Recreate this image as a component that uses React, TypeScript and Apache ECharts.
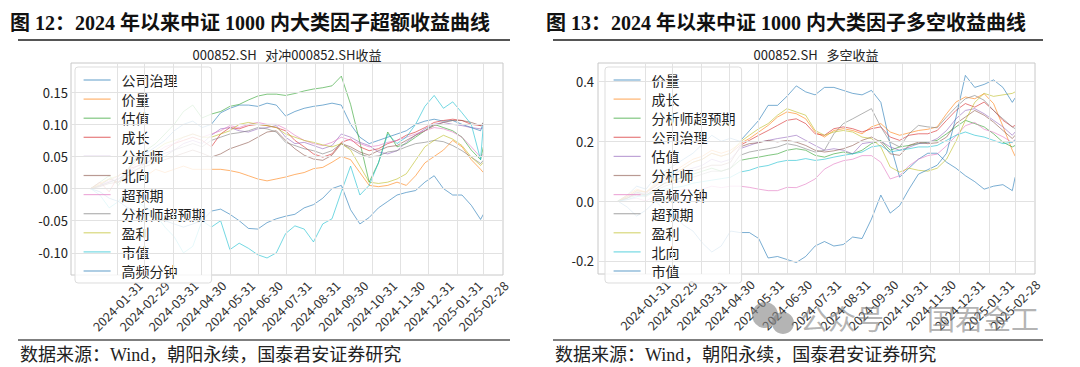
import React, { useEffect, useRef } from 'react';
import * as echarts from 'echarts';

// day offsets from 2024-01-01 for sampled points
const SAMPLE_DAYS = [1, 11, 21, 31, 41, 51, 61, 71, 81, 91, 101, 111, 121, 131, 141, 151, 161, 171, 181, 191, 201, 211, 221, 231, 241, 251, 261, 271, 281, 291, 301, 311, 321, 331, 341, 351, 361, 371, 381, 391, 401, 411, 421, 424];
const MONTH_TICKS = [30, 59, 90, 120, 151, 181, 212, 243, 273, 304, 334, 365, 396, 424];
const TICK_LABELS = ['2024-01-31', '2024-02-29', '2024-03-31', '2024-04-30', '2024-05-31', '2024-06-30', '2024-07-31', '2024-08-31', '2024-09-30', '2024-10-31', '2024-11-30', '2024-12-31', '2025-01-31', '2025-02-28'];
const LEFT_Y_TICKS = [-0.1, -0.05, 0, 0.05, 0.1, 0.15];
const RIGHT_Y_TICKS = [-0.2, 0, 0.2, 0.4];

const LEFT_NAMES = ['公司治理', '价量', '估值', '成长', '分析师', '北向', '超预期', '分析师超预期', '盈利', '市值', '高频分钟'];
const RIGHT_NAMES = ['价量', '成长', '分析师超预期', '公司治理', '估值', '分析师', '高频分钟', '超预期', '盈利', '北向', '市值'];

// Left chart: excess return vs 000852.SH
const lGov = [0, 0.005, 0.015, 0.01, 0.03, 0.045, 0.055, 0.065, 0.075, 0.09, 0.1, 0.105, 0.095, 0.1, 0.118, 0.125, 0.13, 0.13, 0.128, 0.133, 0.13, 0.113, 0.12, 0.125, 0.128, 0.13, 0.133, 0.13, 0.1, 0.08, 0.07, 0.075, 0.08, 0.085, 0.09, 0.1, 0.105, 0.108, 0.105, 0.106, 0.1, 0.095, 0.09, 0.103];
const lPV = [0, 0.008, 0.015, 0.01, 0.02, 0.025, 0.02, 0.03, 0.025, 0.03, 0.035, 0.03, 0.03, 0.03, 0.03, 0.028, 0.025, 0.02, 0.015, 0.012, 0.015, 0.018, 0.022, 0.025, 0.031, 0.033, 0.041, 0.05, 0.045, 0.025, 0.005, 0.003, 0.005, 0.01, 0.005, 0.02, 0.04, 0.05, 0.06, 0.075, 0.065, 0.045, 0.03, 0.025];
const lVal = [0, 0.01, 0.02, 0.005, 0.03, 0.05, 0.06, 0.07, 0.085, 0.1, 0.12, 0.13, 0.11, 0.116, 0.12, 0.128, 0.131, 0.138, 0.144, 0.147, 0.147, 0.145, 0.148, 0.152, 0.155, 0.157, 0.16, 0.175, 0.131, 0.072, 0.01, 0.04, 0.088, 0.065, 0.07, 0.08, 0.09, 0.1, 0.095, 0.09, 0.08, 0.06, 0.045, 0.065];
const lGrowth = [0, 0.01, -0.005, 0.02, 0.03, 0.035, 0.04, 0.05, 0.06, 0.07, 0.075, 0.08, 0.075, 0.065, 0.085, 0.095, 0.093, 0.098, 0.1, 0.098, 0.095, 0.09, 0.075, 0.065, 0.054, 0.049, 0.054, 0.072, 0.077, 0.065, 0.059, 0.062, 0.07, 0.075, 0.083, 0.088, 0.095, 0.103, 0.106, 0.108, 0.106, 0.1, 0.098, 0.1];
const lAnalyst = [0, 0.005, 0.01, 0.015, 0.025, 0.035, 0.04, 0.05, 0.055, 0.06, 0.07, 0.075, 0.07, 0.083, 0.093, 0.095, 0.09, 0.088, 0.093, 0.095, 0.098, 0.08, 0.07, 0.072, 0.067, 0.062, 0.067, 0.085, 0.08, 0.072, 0.067, 0.057, 0.054, 0.059, 0.072, 0.083, 0.093, 0.1, 0.103, 0.1, 0.098, 0.095, 0.093, 0.095];
const lNorth = [0, 0.003, 0.008, 0.01, 0.02, 0.03, 0.035, 0.04, 0.045, 0.05, 0.055, 0.06, 0.055, 0.049, 0.054, 0.062, 0.067, 0.072, 0.08, 0.088, 0.09, 0.075, 0.062, 0.052, 0.046, 0.044, 0.052, 0.07, 0.065, 0.057, 0.052, 0.059, 0.065, 0.067, 0.075, 0.083, 0.09, 0.098, 0.103, 0.106, 0.106, 0.103, 0.098, 0.103];
const lSurprise = [0, 0.005, 0.012, 0.02, 0.03, 0.04, 0.05, 0.055, 0.065, 0.07, 0.08, 0.085, 0.08, 0.085, 0.09, 0.098, 0.095, 0.1, 0.103, 0.1, 0.1, 0.093, 0.083, 0.075, 0.07, 0.067, 0.072, 0.08, 0.075, 0.07, 0.065, 0.067, 0.072, 0.075, 0.08, 0.085, 0.09, 0.095, 0.093, 0.088, 0.08, 0.065, 0.049, 0.054];
const lAnaSurprise = [0, 0.004, 0.01, 0.015, 0.025, 0.03, 0.04, 0.045, 0.05, 0.06, 0.065, 0.07, 0.065, 0.075, 0.08, 0.085, 0.087, 0.09, 0.095, 0.093, 0.088, 0.072, 0.067, 0.062, 0.059, 0.054, 0.059, 0.07, 0.062, 0.054, 0.049, 0.051, 0.057, 0.059, 0.065, 0.07, 0.072, 0.075, 0.073, 0.067, 0.059, 0.049, 0.039, 0.044];
const lProfit = [0, 0.006, 0.015, 0.02, 0.03, 0.045, 0.05, 0.06, 0.07, 0.075, 0.08, 0.085, 0.08, 0.08, 0.085, 0.09, 0.1, 0.103, 0.1, 0.098, 0.095, 0.085, 0.08, 0.075, 0.072, 0.068, 0.065, 0.07, 0.06, 0.035, 0.01, 0.008, 0.01, 0.015, 0.023, 0.044, 0.065, 0.075, 0.083, 0.077, 0.067, 0.049, 0.036, 0.041];
const lSize = [0, -0.01, -0.03, -0.02, 0.0, -0.02, -0.03, -0.04, -0.06, -0.075, -0.1, -0.09, -0.05, -0.06, -0.05, -0.095, -0.085, -0.093, -0.103, -0.108, -0.1, -0.07, -0.058, -0.063, -0.083, -0.055, -0.047, -0.005, 0.035, -0.01, 0.005, 0.04, 0.085, 0.07, 0.08, 0.1, 0.128, 0.145, 0.125, 0.135, 0.118, 0.1, 0.045, 0.1];
const lHF = [0, -0.005, -0.015, -0.02, -0.03, -0.035, -0.04, -0.045, -0.05, -0.055, -0.06, -0.055, -0.05, -0.035, -0.032, -0.04, -0.05, -0.062, -0.063, -0.053, -0.047, -0.043, -0.04, -0.03, -0.025, -0.015, 0.0, 0.005, -0.033, -0.055, -0.045, -0.03, -0.02, -0.01, -0.006, -0.003, 0.01, 0.02, 0.0, -0.01, -0.01, -0.026, -0.048, -0.04];

// Right chart: long-short return
const rPV = [0, 0.02, 0.05, 0.04, 0.08, 0.1, 0.12, 0.14, 0.16, 0.19, 0.22, 0.2, 0.21, 0.2, 0.235, 0.27, 0.32, 0.32, 0.35, 0.385, 0.365, 0.355, 0.38, 0.38, 0.37, 0.36, 0.355, 0.37, 0.33, 0.19, 0.08, 0.11, 0.14, 0.16, 0.16, 0.13, 0.11, 0.085, 0.065, 0.04, 0.05, 0.055, 0.035, 0.08];
const rGrowth = [0, 0.02, 0.04, 0.03, 0.06, 0.09, 0.1, 0.12, 0.14, 0.15, 0.17, 0.16, 0.17, 0.192, 0.209, 0.231, 0.253, 0.281, 0.298, 0.292, 0.275, 0.231, 0.214, 0.236, 0.242, 0.236, 0.225, 0.248, 0.259, 0.231, 0.22, 0.228, 0.236, 0.24, 0.248, 0.292, 0.331, 0.348, 0.342, 0.359, 0.326, 0.25, 0.17, 0.15];
const rAnaSurprise = [0, 0.01, 0.03, 0.02, 0.04, 0.06, 0.07, 0.08, 0.09, 0.1, 0.11, 0.1, 0.11, 0.136, 0.142, 0.147, 0.153, 0.158, 0.17, 0.175, 0.17, 0.153, 0.147, 0.158, 0.164, 0.158, 0.17, 0.192, 0.203, 0.17, 0.181, 0.186, 0.192, 0.197, 0.203, 0.225, 0.248, 0.27, 0.259, 0.248, 0.225, 0.197, 0.181, 0.186];
const rGov = [0, 0.015, 0.035, 0.03, 0.05, 0.08, 0.09, 0.11, 0.13, 0.14, 0.16, 0.15, 0.16, 0.186, 0.203, 0.22, 0.236, 0.253, 0.27, 0.275, 0.259, 0.225, 0.22, 0.242, 0.248, 0.242, 0.231, 0.242, 0.248, 0.214, 0.203, 0.22, 0.225, 0.225, 0.236, 0.27, 0.303, 0.326, 0.314, 0.331, 0.303, 0.27, 0.248, 0.253];
const rVal = [0, 0.01, 0.03, 0.025, 0.05, 0.07, 0.08, 0.1, 0.11, 0.12, 0.14, 0.13, 0.14, 0.175, 0.186, 0.197, 0.203, 0.209, 0.214, 0.22, 0.203, 0.186, 0.17, 0.175, 0.17, 0.158, 0.192, 0.197, 0.2, 0.181, 0.17, 0.18, 0.192, 0.195, 0.209, 0.236, 0.275, 0.303, 0.309, 0.292, 0.27, 0.248, 0.22, 0.231];
const rAnalyst = [0, 0.01, 0.025, 0.02, 0.04, 0.06, 0.07, 0.08, 0.1, 0.11, 0.12, 0.12, 0.13, 0.181, 0.192, 0.195, 0.203, 0.198, 0.203, 0.197, 0.186, 0.17, 0.164, 0.168, 0.175, 0.186, 0.203, 0.214, 0.197, 0.158, 0.153, 0.186, 0.197, 0.192, 0.195, 0.214, 0.259, 0.281, 0.303, 0.287, 0.264, 0.236, 0.209, 0.22];
const rHF = [0, 0.005, 0.01, 0.0, 0.02, 0.025, 0.03, 0.04, 0.035, 0.04, 0.05, 0.045, 0.05, 0.05, 0.046, 0.04, 0.035, 0.035, 0.046, 0.045, 0.057, 0.074, 0.107, 0.124, 0.135, 0.14, 0.152, 0.152, 0.13, 0.074, 0.085, 0.118, 0.14, 0.152, 0.157, 0.185, 0.218, 0.252, 0.263, 0.24, 0.23, 0.215, 0.196, 0.207];
const rSurprise = [0, 0.01, 0.02, 0.015, 0.035, 0.05, 0.06, 0.07, 0.08, 0.09, 0.1, 0.1, 0.11, 0.153, 0.164, 0.17, 0.175, 0.181, 0.192, 0.186, 0.175, 0.164, 0.17, 0.225, 0.259, 0.275, 0.292, 0.309, 0.248, 0.197, 0.181, 0.225, 0.253, 0.248, 0.245, 0.281, 0.314, 0.342, 0.353, 0.337, 0.303, 0.275, 0.248, 0.242];
const rProfit = [0, 0.015, 0.035, 0.03, 0.055, 0.08, 0.09, 0.11, 0.13, 0.14, 0.16, 0.15, 0.16, 0.197, 0.22, 0.242, 0.259, 0.287, 0.309, 0.298, 0.287, 0.236, 0.22, 0.231, 0.236, 0.231, 0.214, 0.209, 0.181, 0.114, 0.097, 0.11, 0.103, 0.1, 0.11, 0.14, 0.2, 0.27, 0.33, 0.36, 0.35, 0.355, 0.36, 0.365];
const rNorth = [0, 0.005, 0.015, 0.02, 0.03, 0.04, 0.045, 0.05, 0.06, 0.065, 0.07, 0.075, 0.08, 0.097, 0.103, 0.114, 0.119, 0.13, 0.136, 0.136, 0.142, 0.136, 0.14, 0.147, 0.153, 0.158, 0.164, 0.181, 0.186, 0.164, 0.17, 0.175, 0.181, 0.181, 0.186, 0.203, 0.22, 0.231, 0.22, 0.214, 0.203, 0.192, 0.197, 0.203];
const rSize = [0, -0.02, -0.05, -0.03, 0.0, -0.03, -0.05, -0.08, -0.1, -0.14, -0.17, -0.15, -0.1, -0.105, -0.105, -0.125, -0.19, -0.185, -0.195, -0.205, -0.185, -0.15, -0.135, -0.15, -0.145, -0.12, -0.125, -0.06, 0.02, -0.04, -0.015, 0.04, 0.09, 0.105, 0.12, 0.16, 0.28, 0.42, 0.38, 0.39, 0.405, 0.38, 0.33, 0.345];

const LEFT_VALUES = [lGov, lPV, lVal, lGrowth, lAnalyst, lNorth, lSurprise, lAnaSurprise, lProfit, lSize, lHF];
const RIGHT_VALUES = [rPV, rGrowth, rAnaSurprise, rGov, rVal, rAnalyst, rHF, rSurprise, rProfit, rNorth, rSize];

const COLORS = ['#1f77b4', '#ff7f0e', '#2ca02c', '#d62728', '#9467bd', '#8c564b', '#e377c2', '#7f7f7f', '#bcbd22', '#17becf', '#1f77b4'];

const X_MIN = -20.15;
const X_MAX = 445.15;
const CJK = '"Noto Sans CJK SC", sans-serif';
const SERIF = '"Liberation Serif", "Noto Sans CJK SC", serif';

function tickLabel(v: number): string {
  const i = MONTH_TICKS.indexOf(Math.round(v));
  return i >= 0 ? TICK_LABELS[i] : '';
}

function makeXAxis(gridIndex: number) {
  return {
    gridIndex,
    type: 'value',
    min: X_MIN,
    max: X_MAX,
    axisLine: { show: false },
    axisTick: { show: false },
    splitLine: { show: false },
    axisLabel: {
      customValues: MONTH_TICKS,
      formatter: (v: number) => tickLabel(v),
      rotate: 45,
      align: 'center',
      verticalAlign: 'middle',
      margin: 31,
      fontSize: 12.5,
      color: '#333',
      fontFamily: CJK,
    },
  };
}

function makeGridSeries(idx: number, yTicks: number[]) {
  return {
    type: 'line',
    name: '__grid' + idx,
    xAxisIndex: idx,
    yAxisIndex: idx,
    data: [[0, 0]],
    symbol: 'none',
    lineStyle: { opacity: 0 },
    silent: true,
    z: 1,
    markLine: {
      silent: true,
      symbol: ['none', 'none'],
      label: { show: false },
      lineStyle: { color: '#e2e2e2', type: 'solid', width: 1 },
      emphasis: { disabled: true },
      data: [...MONTH_TICKS.map((v) => ({ xAxis: v })), ...yTicks.map((v) => ({ yAxis: v }))],
    },
  };
}

function makeSeries(names: string[], values: number[][], idx: number, suffix: string) {
  return names.map((n, i) => ({
    type: 'line',
    name: n + suffix,
    xAxisIndex: idx,
    yAxisIndex: idx,
    data: SAMPLE_DAYS.map((d, j) => [d, values[i][j]]),
    symbol: 'none',
    showSymbol: false,
    color: COLORS[i],
    lineStyle: { width: 1, opacity: 0.6, color: COLORS[i] },
    itemStyle: { color: COLORS[i] },
    emphasis: { disabled: true },
    z: 2,
  }));
}

function makeLegend(names: string[], suffix: string, left: number) {
  return {
    orient: 'vertical',
    left,
    top: 67,
    padding: [6, 6, 5, 8],
    itemWidth: 27,
    itemHeight: 14,
    itemGap: 5.1,
    backgroundColor: 'rgba(255,255,255,0.82)',
    borderColor: '#dddddd',
    borderWidth: 1,
    borderRadius: 3,
    selectedMode: false,
    itemStyle: { opacity: 0, borderWidth: 0 },
    lineStyle: { width: 1.2, opacity: 0.6 },
    formatter: (name: string) => name.trim(),
    textStyle: { fontSize: 14, color: '#222', fontFamily: CJK, padding: [0, 0, 0, 6] },
    data: names.map((n) => n + suffix),
    z: 4,
  };
}

export default function App() {
  const ref = useRef<HTMLDivElement>(null);
  useEffect(() => {
    if (!ref.current) return;
    const chart = echarts.init(ref.current, undefined, { renderer: 'svg' });
    const option: any = {
      animation: false,
      backgroundColor: '#ffffff',
      grid: [
        { left: 71, top: 63, width: 432, height: 212, show: true, borderColor: '#c8c8c8', borderWidth: 1, backgroundColor: '#fff' },
        { left: 598, top: 63, width: 437, height: 211, show: true, borderColor: '#c8c8c8', borderWidth: 1, backgroundColor: '#fff' },
      ],
      xAxis: [makeXAxis(0), makeXAxis(1)],
      yAxis: [
        {
          gridIndex: 0, type: 'value', min: -0.1345, max: 0.1955,
          axisLine: { show: false }, axisTick: { show: false }, splitLine: { show: false },
          axisLabel: { customValues: LEFT_Y_TICKS, formatter: (v: number) => v.toFixed(2), fontSize: 13, color: '#222', margin: 3, fontFamily: CJK },
        },
        {
          gridIndex: 1, type: 'value', min: -0.2435, max: 0.4615,
          axisLine: { show: false }, axisTick: { show: false }, splitLine: { show: false },
          axisLabel: { customValues: RIGHT_Y_TICKS, formatter: (v: number) => v.toFixed(1), fontSize: 13, color: '#222', margin: 4, fontFamily: CJK },
        },
      ],
      legend: [makeLegend(LEFT_NAMES, '', 75), makeLegend(RIGHT_NAMES, ' ', 605)],
      series: [
        makeGridSeries(0, LEFT_Y_TICKS),
        makeGridSeries(1, RIGHT_Y_TICKS),
        ...makeSeries(LEFT_NAMES, LEFT_VALUES, 0, ''),
        ...makeSeries(RIGHT_NAMES, RIGHT_VALUES, 1, ' '),
      ],
      graphic: [
        { type: 'text', x: 10, y: 23, style: { text: '图 12：2024 年以来中证 1000 内大类因子超额收益曲线', font: 'bold 20px ' + SERIF, fill: '#111', verticalAlign: 'middle' } },
        { type: 'text', x: 546, y: 23, style: { text: '图 13：2024 年以来中证 1000 内大类因子多空收益曲线', font: 'bold 20px ' + SERIF, fill: '#111', verticalAlign: 'middle' } },
        { type: 'line', shape: { x1: 18, y1: 40, x2: 510, y2: 40 }, style: { stroke: '#555', lineWidth: 2 } },
        { type: 'line', shape: { x1: 553, y1: 40, x2: 1043, y2: 40 }, style: { stroke: '#555', lineWidth: 2 } },
        { type: 'text', x: 287, y: 54, style: { text: '000852.SH   对冲000852.SH收益', font: '13px ' + CJK, fill: '#222', align: 'center', verticalAlign: 'middle' } },
        { type: 'text', x: 816, y: 54, style: { text: '000852.SH   多空收益', font: '13px ' + CJK, fill: '#222', align: 'center', verticalAlign: 'middle' } },
        { type: 'line', shape: { x1: 18, y1: 340, x2: 510, y2: 340 }, style: { stroke: '#555', lineWidth: 1.5 } },
        { type: 'line', shape: { x1: 553, y1: 340, x2: 1043, y2: 340 }, style: { stroke: '#555', lineWidth: 1.5 } },
        { type: 'text', x: 20, y: 355, style: { text: '数据来源：Wind，朝阳永续，国泰君安证券研究', font: '18px ' + SERIF, fill: '#222', verticalAlign: 'middle' } },
        { type: 'text', x: 555, y: 355, style: { text: '数据来源：Wind，朝阳永续，国泰君安证券研究', font: '18px ' + SERIF, fill: '#222', verticalAlign: 'middle' } },
        { type: 'circle', z: 100, shape: { cx: 765, cy: 315, r: 13 }, style: { fill: 'rgba(130,130,130,0.6)' } },
        { type: 'circle', z: 100, shape: { cx: 783, cy: 323, r: 11 }, style: { fill: 'rgba(130,130,130,0.6)' } },
        { type: 'text', z: 100, x: 800, y: 318, style: { text: '公众号', font: '28px ' + CJK, fill: 'rgba(130,130,130,0.6)', verticalAlign: 'middle' } },
        { type: 'text', z: 100, x: 927, y: 318, style: { text: '国君金工', font: '28px ' + CJK, fill: 'rgba(130,130,130,0.6)', verticalAlign: 'middle' } },
      ],
    };
    chart.setOption(option);
    return () => chart.dispose();
  }, []);
  return <div ref={ref} style={{ position: 'absolute', left: 0, top: 0, width: 1080, height: 367 }} />;
}
